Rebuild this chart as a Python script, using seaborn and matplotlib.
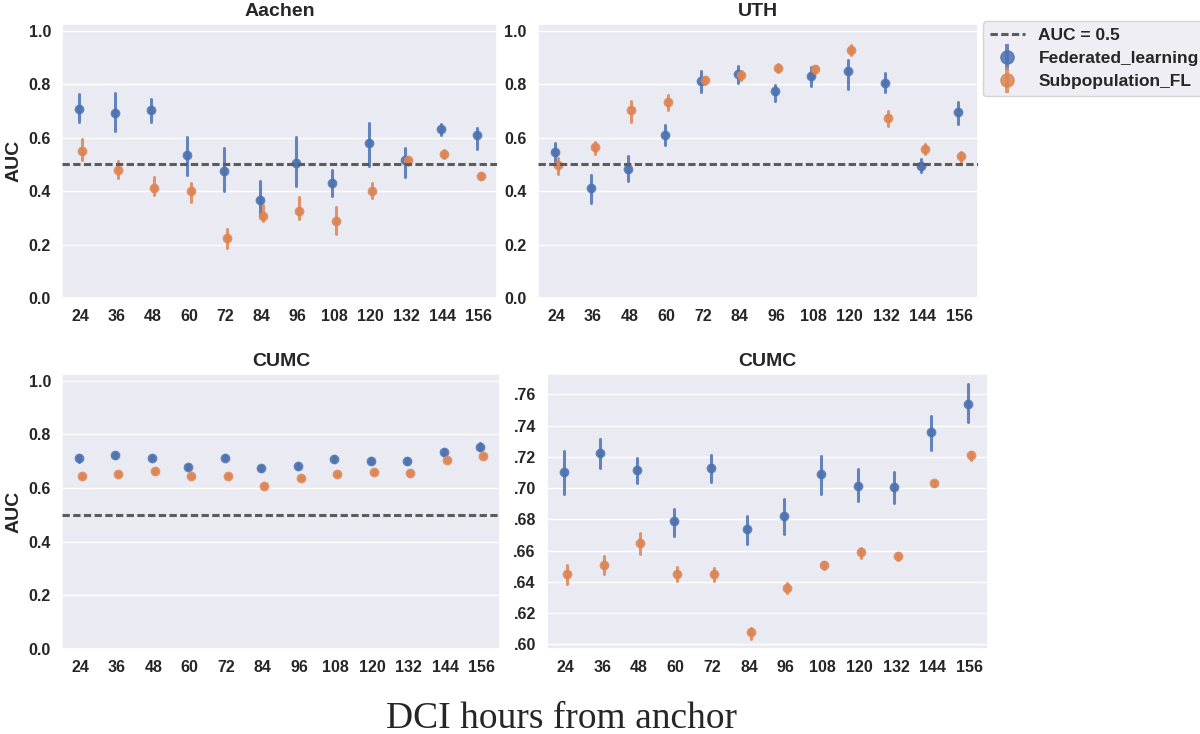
import numpy as np
import pandas as pd
import matplotlib.pyplot as plt
import seaborn as sns
from matplotlib.lines import Line2D
from matplotlib.legend_handler import HandlerTuple
from matplotlib.ticker import FuncFormatter, MultipleLocator

hours = [24, 36, 48, 60, 72, 84, 96, 108, 120, 132, 144, 156]
models = ["Federated_learning", "Subpopulation_FL"]

# Aachen
aachen_fl = [0.709, 0.693, 0.705, 0.536, 0.476, 0.368, 0.507, 0.432, 0.580, 0.516, 0.632, 0.610]
aachen_fl_lo = [0.658, 0.627, 0.658, 0.460, 0.402, 0.309, 0.418, 0.381, 0.495, 0.454, 0.609, 0.558]
aachen_fl_hi = [0.764, 0.767, 0.746, 0.604, 0.561, 0.439, 0.604, 0.478, 0.656, 0.561, 0.653, 0.637]
aachen_sfl = [0.552, 0.480, 0.413, 0.399, 0.223, 0.307, 0.327, 0.287, 0.399, 0.515, 0.541, 0.457]
aachen_sfl_lo = [0.517, 0.449, 0.384, 0.359, 0.186, 0.287, 0.295, 0.241, 0.375, 0.499, 0.526, 0.446]
aachen_sfl_hi = [0.594, 0.514, 0.452, 0.432, 0.260, 0.347, 0.380, 0.340, 0.432, 0.526, 0.553, 0.468]

# UTH
uth_fl = [0.547, 0.411, 0.483, 0.609, 0.813, 0.839, 0.774, 0.832, 0.848, 0.804, 0.495, 0.697]
uth_fl_lo = [0.511, 0.356, 0.437, 0.572, 0.770, 0.804, 0.736, 0.792, 0.782, 0.771, 0.473, 0.653]
uth_fl_hi = [0.582, 0.462, 0.532, 0.647, 0.848, 0.869, 0.796, 0.863, 0.891, 0.842, 0.520, 0.733]
uth_sfl = [0.499, 0.566, 0.702, 0.734, 0.817, 0.834, 0.860, 0.856, 0.928, 0.675, 0.557, 0.530]
uth_sfl_lo = [0.464, 0.541, 0.658, 0.702, 0.801, 0.817, 0.845, 0.842, 0.910, 0.644, 0.538, 0.511]
uth_sfl_hi = [0.526, 0.585, 0.739, 0.759, 0.829, 0.848, 0.875, 0.869, 0.949, 0.699, 0.578, 0.547]

# CUMC
cumc_fl = [0.7104, 0.7224, 0.7117, 0.6792, 0.7128, 0.6735, 0.6818, 0.7091, 0.7016, 0.7009, 0.7360, 0.7538]
cumc_fl_lo = [0.6962, 0.7128, 0.7031, 0.6694, 0.7037, 0.6640, 0.6709, 0.6962, 0.6917, 0.6902, 0.7246, 0.7422]
cumc_fl_hi = [0.7235, 0.7314, 0.7192, 0.6863, 0.7213, 0.6823, 0.6930, 0.7207, 0.7123, 0.7100, 0.7460, 0.7664]
cumc_sfl = [0.6451, 0.6505, 0.6649, 0.6451, 0.6449, 0.6079, 0.6359, 0.6505, 0.6591, 0.6565, 0.7031, 0.7209]
cumc_sfl_lo = [0.6387, 0.6451, 0.6580, 0.6408, 0.6408, 0.6037, 0.6326, 0.6483, 0.6554, 0.6541, 0.7014, 0.7181]
cumc_sfl_hi = [0.6509, 0.6563, 0.6713, 0.6494, 0.6488, 0.6107, 0.6393, 0.6526, 0.6616, 0.6586, 0.7048, 0.7231]


def long_frame(fl, fl_lo, fl_hi, sfl, sfl_lo, sfl_hi):
    # lo / mid / hi rows -> median gives the point, 100% interval gives the bar
    rows = []
    for model, mid, lo, hi in [(models[0], fl, fl_lo, fl_hi), (models[1], sfl, sfl_lo, sfl_hi)]:
        for h, m, l, u in zip(hours, mid, lo, hi):
            for v in (l, m, u):
                rows.append({"hour": h, "model": model, "auc": v})
    return pd.DataFrame(rows)


df_aachen = long_frame(aachen_fl, aachen_fl_lo, aachen_fl_hi, aachen_sfl, aachen_sfl_lo, aachen_sfl_hi)
df_uth = long_frame(uth_fl, uth_fl_lo, uth_fl_hi, uth_sfl, uth_sfl_lo, uth_sfl_hi)
df_cumc = long_frame(cumc_fl, cumc_fl_lo, cumc_fl_hi, cumc_sfl, cumc_sfl_lo, cumc_sfl_hi)

sns.set_theme(style="darkgrid")
plt.rcParams["font.family"] = ["Liberation Sans", "DejaVu Sans"]
plt.rcParams["font.weight"] = "bold"
plt.rcParams["axes.titleweight"] = "bold"
plt.rcParams["axes.labelweight"] = "bold"

palette = sns.color_palette("deep", 2)
line_color = "#5c5c5c"

fig = plt.figure(figsize=(12, 7.34), dpi=100)
ax1 = fig.add_axes([0.0517, 0.594, 0.3625, 0.373])
ax2 = fig.add_axes([0.4483, 0.594, 0.3667, 0.373])
ax3 = fig.add_axes([0.0517, 0.1158, 0.365, 0.3747])
ax4 = fig.add_axes([0.4558, 0.1158, 0.3675, 0.3747])

panels = [(ax1, df_aachen, "Aachen", True),
          (ax2, df_uth, "UTH", True),
          (ax3, df_cumc, "CUMC", True),
          (ax4, df_cumc, "CUMC", False)]

for ax, d, title, ref_line in panels:
    sns.pointplot(data=d, x="hour", y="auc", hue="model", hue_order=models,
                  palette=palette, estimator="median", errorbar=("pi", 100),
                  dodge=0.09, linestyle="none", markers="o", markersize=5,
                  alpha=0.85, err_kws={"linewidth": 2.2, "alpha": 0.85},
                  legend=False, ax=ax)
    if ref_line:
        ax.axhline(0.5, color=line_color, linestyle=(0, (2.4, 1.1)), linewidth=2.2, zorder=5)
        ax.set_ylim(0, 1.025)
    ax.set_title(title, fontsize=14, fontweight="bold")
    ax.set_xlabel("")
    ax.set_ylabel("")
    ax.tick_params(axis="both", labelsize=11.5, pad=2)

ax1.set_ylabel("AUC", fontsize=14, fontweight="bold", labelpad=4)
ax3.set_ylabel("AUC", fontsize=14, fontweight="bold", labelpad=4)

ax4.set_ylim(0.597, 0.773)
ax4.yaxis.set_major_locator(MultipleLocator(0.02))
ax4.yaxis.set_major_formatter(FuncFormatter(lambda v, p: f"{v:.2f}".lstrip("0")))

handles = [Line2D([], [], color=line_color, linestyle=(0, (2.4, 1.1)), linewidth=2.2)]
for c in palette:
    bar = Line2D([], [], color=c, marker="|", markersize=19, markeredgewidth=2.8, linestyle="none", alpha=0.85)
    dot = Line2D([], [], color=c, marker="o", markersize=9.5, linestyle="none", alpha=0.85)
    handles.append((bar, dot))
ax2.legend(handles, ["AUC = 0.5"] + models, loc="upper left", bbox_to_anchor=(1.011, 1.011),
           fontsize=12.5, handler_map={tuple: HandlerTuple(ndivide=1)},
           borderaxespad=0, labelspacing=0.45)

fig.text(0.468, 0.008, "DCI hours from anchor", ha="center", va="baseline",
         fontsize=27, fontweight="normal", family=["Liberation Serif", "DejaVu Serif"])

fig.savefig("out.png", dpi=100)
